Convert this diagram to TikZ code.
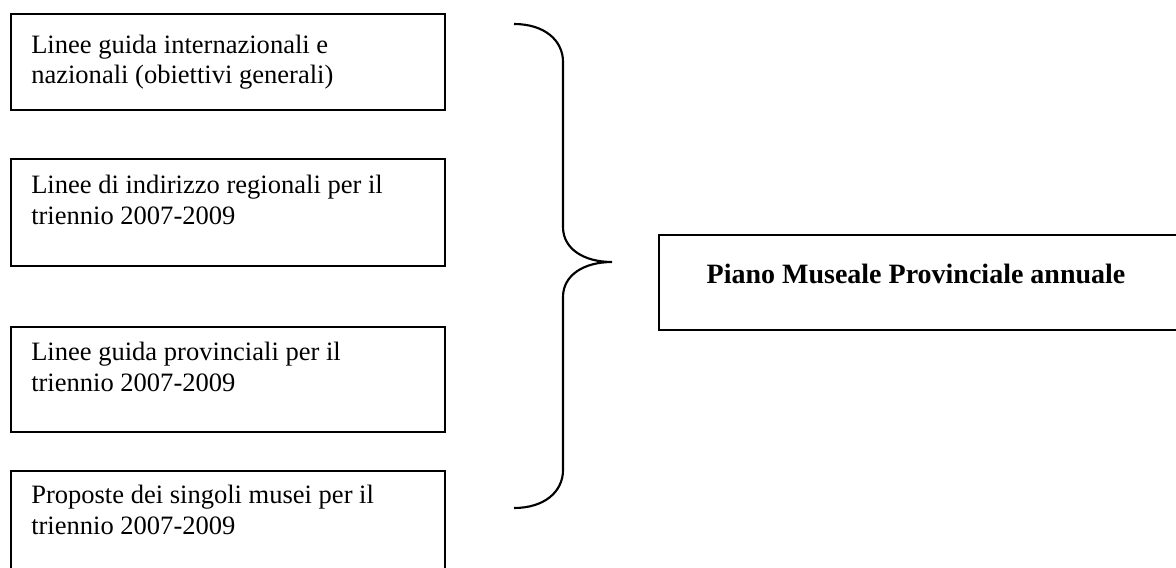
\documentclass[tikz,border=0pt]{standalone}
\usepackage{fontspec}
\setmainfont{Liberation Serif}
\usetikzlibrary{positioning,calc}

\tikzset{
    srcbox/.style={draw, line width=1.8pt, inner sep=0pt, anchor=north west, minimum width=325.5pt},
    srctext/.style={anchor=base west, align=left, inner sep=0pt, font=\fontsize{19.9}{23}\selectfont},
    brace/.style={draw, line width=1.6pt},
}

\begin{document}
\begin{tikzpicture}[x=0.75pt, y=-0.75pt]
    \useasboundingbox (0,0) rectangle (1176,567);
    \clip (0,0) rectangle (1176,567);

    % input boxes (text anchored on the baseline of its last line)
    \node[srcbox, minimum height=72pt] (guide) at (10,13) {};
    \node[srctext] (guidetxt) at ($(guide.north west)+(21,71)$) {Linee guida internazionali e\\nazionali (obiettivi generali)};

    \node[srcbox, minimum height=80.25pt] (region) at (10,158) {};
    \node[srctext] (regiontxt) at ($(region.north west)+(21,66)$) {Linee di indirizzo regionali per il\\triennio 2007-2009};

    \node[srcbox, minimum height=78.75pt] (prov) at (10,326) {};
    \node[srctext] (provtxt) at ($(prov.north west)+(21,65)$) {Linee guida provinciali per il\\triennio 2007-2009};

    \node[srcbox, minimum height=82.5pt] (musei) at (10,470) {};
    \node[srctext] (museitxt) at ($(musei.north west)+(21,64)$) {Proposte dei singoli musei per il\\triennio 2007-2009};

    % brace
    \coordinate (brtop) at (514,24);
    \coordinate (brtip) at (612,262);
    \coordinate (brbot) at (514,508);
    \coordinate (sp1) at (563,62);
    \coordinate (sp2) at (563,227);
    \coordinate (sp3) at (563,297);
    \coordinate (sp4) at (563,470);
    \path[brace] (brtop) .. controls +(30,0) and +(0,-22) .. (sp1) -- (sp2)
        .. controls +(0,22) and +(-28,0) .. (brtip)
        .. controls +(-28,0) and +(0,-22) .. (sp3) -- (sp4)
        .. controls +(0,22) and +(30,0) .. (brbot);

    % result box
    \node[draw, line width=1.8pt, inner sep=0pt, anchor=north west, minimum width=400pt, minimum height=71.25pt] (piano) at (658,234) {};
    \node[anchor=base, inner sep=0pt, font=\fontsize{21}{25}\selectfont\bfseries] (pianotxt) at (916,283) {Piano Museale Provinciale annuale};
\end{tikzpicture}
\end{document}
